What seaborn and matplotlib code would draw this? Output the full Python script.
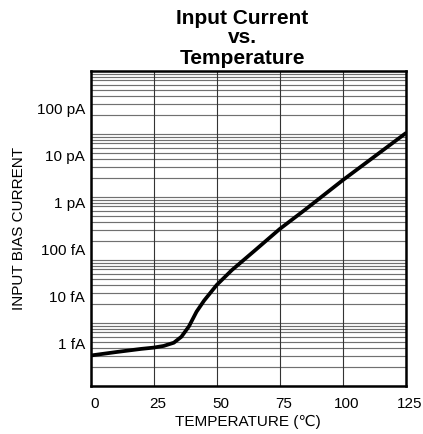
import numpy as np
import pandas as pd
import matplotlib
matplotlib.use("Agg")
import matplotlib.pyplot as plt
import matplotlib.transforms as mtransforms
import seaborn as sns

# values (current in fA)
temperature = [0, 10, 20, 25, 29, 33, 36, 39, 42, 45, 50, 56, 65, 75, 85, 100, 112, 125]
bias_fA = [0.55, 0.65, 0.76, 0.81, 0.88, 1.03, 1.38, 2.3, 4.7, 8.1, 17.4, 36,
           93, 270, 690, 2950, 8900, 29500]

x_ticks = [0, 25, 50, 75, 100, 125]
y_ticks = [1, 10, 100, 1e3, 1e4, 1e5]
y_tick_labels = ["1 fA", "10 fA", "100 fA", "1 pA", "10 pA", "100 pA"]

df = pd.DataFrame({"T": temperature, "I": bias_fA})

sns.set_theme(style="white")
plt.rcParams["font.family"] = ["Liberation Sans", "DejaVu Sans"]

fig = plt.figure(figsize=(4.23, 4.34), dpi=100)
ax = fig.add_axes([0.2144, 0.1113, 0.7447, 0.7258])

# the printed grid has its own 5-decade log ruling, independent of the labels
ax2 = ax.twinx()
ax2.set_yscale("log")
ax2.set_ylim(1, 1e5)
ax2.yaxis.set_major_locator(matplotlib.ticker.LogLocator(base=10))
ax2.yaxis.set_minor_locator(matplotlib.ticker.LogLocator(base=10, subs=np.arange(2, 10)))
ax2.grid(axis="y", which="both", color="#707070", linewidth=0.85)
ax2.tick_params(axis="y", which="both", length=0, labelright=False)
for s in ax2.spines.values():
    s.set_visible(False)

ax.set_zorder(ax2.get_zorder() + 1)
ax.patch.set_visible(False)

sns.lineplot(data=df, x="T", y="I", ax=ax, color="black", linewidth=2.7)

ax.set_yscale("log")
ax.set_xlim(0, 125)
ax.set_ylim(10 ** -0.902, 10 ** 5.8)
ax.set_xticks(x_ticks)
ax.set_yticks(y_ticks)
ax.set_yticklabels(y_tick_labels)
ax.yaxis.set_minor_locator(matplotlib.ticker.NullLocator())
ax.grid(axis="x", color="#333333", linewidth=0.8)
ax.tick_params(axis="both", length=0, labelsize=11, colors="black")
ax.tick_params(axis="y", pad=4)
ax.tick_params(axis="x", pad=8)

shift = mtransforms.ScaledTranslation(4 / 100, 0, fig.dpi_scale_trans)
for lab in ax.get_xticklabels():
    lab.set_transform(lab.get_transform() + shift)

for s in ax.spines.values():
    s.set_visible(True)
    s.set_color("black")
    s.set_linewidth(1.8)

ax.set_xlabel("TEMPERATURE (\u2103)", fontsize=11, color="black", labelpad=3)
ax.set_ylabel("INPUT BIAS CURRENT", fontsize=11, color="black", labelpad=8)

for txt, yb in [("Input Current", 24.3), ("vs.", 43.3), ("Temperature", 64.3)]:
    fig.text(242.5 / 423, 1 - yb / 434, txt, ha="center", va="baseline",
             fontsize=15, fontweight="bold", color="black")

fig.savefig("out.png", dpi=100)
